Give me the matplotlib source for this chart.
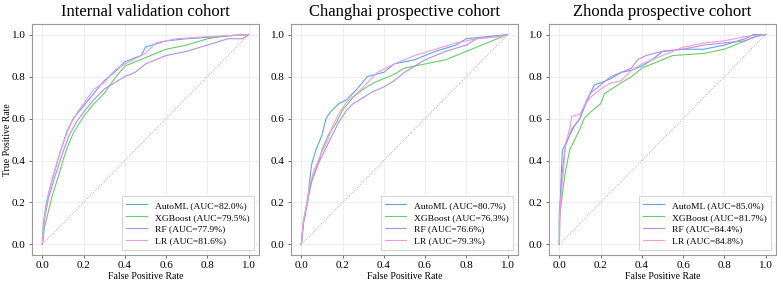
import matplotlib
matplotlib.use("Agg")
import matplotlib.pyplot as plt

plt.rcParams['font.family'] = ['Liberation Serif', 'DejaVu Serif']

titles = ["Internal validation cohort", "Changhai prospective cohort", "Zhonda prospective cohort"]
models = ["AutoML", "XGBoost", "RF", "LR"]
colors = ["#5ea6dd", "#6acb6a", "#b38ee4", "#f39ade"]

# AUC values (%) per cohort, order matches models
auc_internal = [82.0, 79.5, 77.9, 81.6]
auc_changhai = [80.7, 76.3, 76.6, 79.3]
auc_zhonda = [85.0, 81.7, 84.4, 84.8]

# ROC points (fpr, tpr)
internal_automl_fpr = [0, 0.005, 0.02, 0.04, 0.06, 0.08, 0.1, 0.12, 0.15, 0.2, 0.25, 0.3, 0.35, 0.4, 0.45, 0.48, 0.5, 0.6, 0.7, 0.85, 1]
internal_automl_tpr = [0, 0.1, 0.2, 0.28, 0.35, 0.42, 0.48, 0.54, 0.6, 0.66, 0.72, 0.78, 0.82, 0.87, 0.89, 0.9, 0.94, 0.97, 0.98, 0.99, 1]
internal_xgb_fpr = [0, 0.01, 0.03, 0.05, 0.08, 0.1, 0.12, 0.15, 0.2, 0.25, 0.3, 0.35, 0.4, 0.5, 0.6, 0.7, 0.8, 0.9, 1]
internal_xgb_tpr = [0, 0.08, 0.16, 0.24, 0.33, 0.4, 0.46, 0.53, 0.61, 0.67, 0.72, 0.79, 0.85, 0.89, 0.93, 0.95, 0.98, 0.995, 1]
internal_rf_fpr = [0, 0.01, 0.03, 0.06, 0.08, 0.1, 0.13, 0.17, 0.2, 0.25, 0.3, 0.35, 0.4, 0.45, 0.5, 0.55, 0.6, 0.7, 0.8, 0.9, 0.97, 1]
internal_rf_tpr = [0, 0.12, 0.22, 0.32, 0.38, 0.44, 0.52, 0.59, 0.63, 0.69, 0.74, 0.77, 0.8, 0.82, 0.86, 0.88, 0.9, 0.92, 0.95, 0.98, 0.98, 1]
internal_lr_fpr = [0, 0.01, 0.03, 0.05, 0.08, 0.1, 0.13, 0.17, 0.2, 0.25, 0.3, 0.35, 0.4, 0.5, 0.55, 0.65, 0.8, 1]
internal_lr_tpr = [0, 0.12, 0.24, 0.32, 0.42, 0.48, 0.56, 0.63, 0.67, 0.74, 0.77, 0.83, 0.86, 0.91, 0.96, 0.98, 0.99, 1]

changhai_automl_fpr = [0, 0.01, 0.03, 0.04, 0.05, 0.07, 0.1, 0.12, 0.14, 0.18, 0.22, 0.27, 0.32, 0.4, 0.45, 0.55, 0.65, 0.75, 0.8, 0.9, 1]
changhai_automl_tpr = [0, 0.1, 0.2, 0.3, 0.38, 0.45, 0.52, 0.6, 0.63, 0.67, 0.69, 0.74, 0.8, 0.82, 0.86, 0.88, 0.92, 0.95, 0.98, 0.99, 1]
changhai_xgb_fpr = [0, 0.01, 0.03, 0.05, 0.08, 0.1, 0.13, 0.17, 0.2, 0.25, 0.3, 0.35, 0.4, 0.45, 0.5, 0.6, 0.7, 0.8, 0.9, 1]
changhai_xgb_tpr = [0, 0.1, 0.2, 0.3, 0.38, 0.45, 0.52, 0.58, 0.64, 0.7, 0.74, 0.77, 0.79, 0.81, 0.84, 0.86, 0.88, 0.92, 0.96, 1]
changhai_rf_fpr = [0, 0.01, 0.03, 0.05, 0.08, 0.12, 0.15, 0.18, 0.22, 0.25, 0.3, 0.35, 0.4, 0.45, 0.5, 0.55, 0.6, 0.7, 0.8, 0.85, 0.95, 1]
changhai_rf_tpr = [0, 0.1, 0.22, 0.3, 0.38, 0.46, 0.52, 0.58, 0.64, 0.67, 0.7, 0.73, 0.75, 0.78, 0.82, 0.85, 0.88, 0.92, 0.95, 0.98, 0.99, 1]
changhai_lr_fpr = [0, 0.01, 0.03, 0.04, 0.06, 0.1, 0.13, 0.15, 0.18, 0.22, 0.27, 0.32, 0.37, 0.45, 0.55, 0.65, 0.75, 0.85, 0.95, 1]
changhai_lr_tpr = [0, 0.12, 0.2, 0.28, 0.35, 0.44, 0.5, 0.56, 0.62, 0.68, 0.72, 0.77, 0.82, 0.86, 0.9, 0.93, 0.96, 0.98, 0.99, 1]

zhonda_automl_fpr = [0, 0, 0.005, 0.01, 0.015, 0.03, 0.05, 0.07, 0.1, 0.12, 0.15, 0.17, 0.2, 0.25, 0.3, 0.35, 0.4, 0.45, 0.5, 0.6, 0.7, 0.8, 0.9, 0.94, 1]
zhonda_automl_tpr = [0, 0.15, 0.22, 0.35, 0.45, 0.48, 0.52, 0.56, 0.6, 0.65, 0.72, 0.76, 0.77, 0.79, 0.82, 0.83, 0.85, 0.88, 0.92, 0.93, 0.93, 0.95, 0.98, 1.0, 1]
zhonda_xgb_fpr = [0, 0, 0.01, 0.02, 0.03, 0.05, 0.07, 0.1, 0.12, 0.15, 0.2, 0.22, 0.3, 0.35, 0.4, 0.45, 0.5, 0.55, 0.7, 0.8, 0.9, 0.95, 1]
zhonda_xgb_tpr = [0, 0.12, 0.2, 0.28, 0.35, 0.45, 0.49, 0.55, 0.6, 0.63, 0.67, 0.72, 0.77, 0.8, 0.84, 0.86, 0.88, 0.9, 0.91, 0.93, 0.97, 0.99, 1]
zhonda_rf_fpr = [0, 0.005, 0.01, 0.02, 0.03, 0.06, 0.1, 0.12, 0.15, 0.2, 0.25, 0.3, 0.35, 0.38, 0.42, 0.5, 0.6, 0.7, 0.8, 0.9, 0.95, 1]
zhonda_rf_tpr = [0, 0.2, 0.3, 0.4, 0.47, 0.55, 0.6, 0.66, 0.72, 0.76, 0.8, 0.82, 0.84, 0.88, 0.9, 0.92, 0.93, 0.95, 0.96, 0.97, 0.99, 1]
zhonda_lr_fpr = [0, 0, 0.01, 0.02, 0.03, 0.05, 0.06, 0.1, 0.12, 0.15, 0.2, 0.25, 0.3, 0.35, 0.4, 0.5, 0.6, 0.7, 0.8, 0.9, 1]
zhonda_lr_tpr = [0, 0.12, 0.25, 0.35, 0.48, 0.55, 0.61, 0.62, 0.66, 0.7, 0.74, 0.77, 0.78, 0.83, 0.86, 0.9, 0.94, 0.96, 0.97, 0.99, 1]

cohorts = [
    (auc_internal, [(internal_automl_fpr, internal_automl_tpr), (internal_xgb_fpr, internal_xgb_tpr),
                    (internal_rf_fpr, internal_rf_tpr), (internal_lr_fpr, internal_lr_tpr)]),
    (auc_changhai, [(changhai_automl_fpr, changhai_automl_tpr), (changhai_xgb_fpr, changhai_xgb_tpr),
                    (changhai_rf_fpr, changhai_rf_tpr), (changhai_lr_fpr, changhai_lr_tpr)]),
    (auc_zhonda, [(zhonda_automl_fpr, zhonda_automl_tpr), (zhonda_xgb_fpr, zhonda_xgb_tpr),
                  (zhonda_rf_fpr, zhonda_rf_tpr), (zhonda_lr_fpr, zhonda_lr_tpr)]),
]

fig = plt.figure(figsize=(7.77, 2.83), dpi=100)
lefts = [0.0412, 0.3745, 0.7066]

for i, (aucs, curves) in enumerate(cohorts):
    ax = fig.add_axes([lefts[i], 0.099, 0.292, 0.816])
    ax.grid(True, color="#ebebeb", lw=0.6)
    ax.set_axisbelow(True)
    for (fpr, tpr), name, auc, c in zip(curves, models, aucs, colors):
        ax.plot(fpr, tpr, color=c, lw=0.8, label=f"{name} (AUC={auc:.1f}%)")
    ax.plot([0, 1], [0, 1], ls=":", color="#999999", lw=0.6)
    ax.set_xlim(-0.05, 1.05)
    ax.set_ylim(-0.05, 1.05)
    ax.set_xticks([0, 0.2, 0.4, 0.6, 0.8, 1.0])
    ax.set_yticks([0, 0.2, 0.4, 0.6, 0.8, 1.0])
    ax.tick_params(labelsize=8, length=2.5, width=0.6, color="#555555", pad=2)
    for s in ax.spines.values():
        s.set_color("#999999")
        s.set_linewidth(0.8)
    ax.set_title(titles[i], fontsize=12, pad=6)
    ax.set_xlabel("False Positive Rate", fontsize=7, labelpad=1)
    if i == 0:
        ax.set_ylabel("True Positive Rate", fontsize=7)
        ax.yaxis.set_label_coords(-0.09, 0.5)
    leg = ax.legend(loc="lower right", fontsize=6.8, fancybox=False, framealpha=1,
                    edgecolor="#cccccc", handlelength=2.2, borderpad=0.5, labelspacing=0.35)
    leg.get_frame().set_linewidth(0.6)

fig.savefig("out.png", dpi=100)
